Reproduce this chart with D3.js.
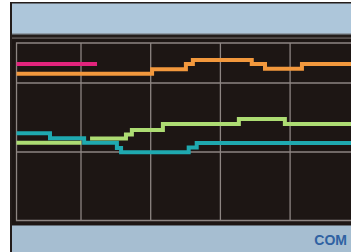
<!DOCTYPE html>
<html>
<head>
<meta charset="utf-8">
<script src="https://cdn.jsdelivr.net/npm/d3@7/dist/d3.min.js"></script>
<style>
html,body{margin:0;padding:0;background:#fff;}
svg{display:block;}
</style>
</head>
<body>
<script>
// ---- data (time in minutes, value in divisions) ----
const gridTimes = [10, 20, 30, 40];
const gridValues = [10, 20];
const statusLabel = "COM";

const magentaT = [0.75, 12.3];
const magentaV = [22.75, 22.75];

const orangeT = [0.75, 20.2, 25.05, 26.05, 34.5, 36.4, 41.7, 50];
const orangeV = [21.35, 21.98, 22.75, 23.33, 22.75, 22.07, 22.75, 22.75];

const greenT = [0.75, 10.05, 11.3, 16.45, 17.3, 21.75, 32.65, 39.25, 50];
const greenV = [11.35, null, 11.96, 12.54, 13.19, 14.06, 14.78, 14.06, 14.06];

const tealT = [0.75, 5.55, 10.45, 15.15, 15.75, 25.45, 26.6, 50];
const tealV = [12.71, 11.99, 11.35, 10.58, 9.96, 10.65, 11.3, 11.3];

// ---- drawing ----
const W = 351, H = 252;
const svg = d3.select("body").append("svg").attr("width", W).attr("height", H);

const x = d3.scaleLinear().domain([0, 50]).range([11.3, 359.8]);
const y = d3.scaleLinear().domain([0, 30]).range([221, 14]);

// outer dark frame
svg.append("rect").attr("x", 10).attr("y", 2).attr("width", W - 10).attr("height", H - 2).attr("fill", "#231c1a");
// top status band
svg.append("rect").attr("x", 12).attr("y", 3.5).attr("width", W - 12).attr("height", 30.5).attr("fill", "#adc6da");
svg.append("rect").attr("x", 12).attr("y", 33).attr("width", W - 12).attr("height", 1.5).attr("fill", "#8e9ba6");
svg.append("rect").attr("x", 12).attr("y", 37.3).attr("width", W - 12).attr("height", 1.6).attr("fill", "#5b5553");
// plot area
const plotLeft = x(0.75), plotTop = y(25.8), plotBottom = y(0) - 0.5;
svg.append("rect").attr("x", 12).attr("y", 39).attr("width", W - 12).attr("height", 186).attr("fill", "#1d1614");
// bottom status band
svg.append("rect").attr("x", 12).attr("y", 225.5).attr("width", W - 12).attr("height", H - 225.5).attr("fill", "#a6bed1");

const gridColor = "#8d8582";
// grid
const g = svg.append("g");
g.selectAll("line.v").data(gridTimes).join("line")
  .attr("x1", d => x(d)).attr("x2", d => x(d)).attr("y1", plotTop).attr("y2", plotBottom)
  .attr("stroke", gridColor).attr("stroke-width", 1.3);
g.selectAll("line.h").data(gridValues).join("line")
  .attr("x1", plotLeft).attr("x2", W).attr("y1", d => y(d)).attr("y2", d => y(d))
  .attr("stroke", gridColor).attr("stroke-width", 1.3);
// frame
g.append("path")
  .attr("d", `M${W + 5},${plotTop}H${plotLeft}V${plotBottom}H${W + 5}`)
  .attr("fill", "none").attr("stroke", gridColor).attr("stroke-width", 1.3);

// step traces
function stepPoints(T, V) {
  const pts = [];
  for (let i = 0; i < T.length; i++) {
    const t1 = i + 1 < T.length ? T[i + 1] : T[i];
    if (V[i] == null) { pts.push({t: T[i], v: null}); continue; }
    pts.push({t: T[i], v: V[i]});
    pts.push({t: t1, v: V[i]});
  }
  return pts;
}
const line = d3.line().defined(d => d.v != null).x(d => x(d.t)).y(d => y(d.v));
const series = [
  {T: tealT, V: tealV, c: "#1fa9b0"},
  {T: greenT, V: greenV, c: "#addc73"},
  {T: orangeT, V: orangeV, c: "#f2983d"},
  {T: magentaT, V: magentaV, c: "#e2247d"}
];
series.forEach(s => {
  svg.append("path").attr("d", line(stepPoints(s.T, s.V)))
    .attr("fill", "none").attr("stroke", s.c).attr("stroke-width", 4)
    .attr("stroke-linejoin", "miter").attr("stroke-linecap", "butt");
});

// label
svg.append("text").attr("x", 347).attr("y", 245).attr("text-anchor", "end")
  .attr("font-family", "'Liberation Sans', Arial, sans-serif").attr("font-weight", "bold")
  .attr("font-size", 14).attr("fill", "#2f62a2").text(statusLabel);
</script>
</body>
</html>
